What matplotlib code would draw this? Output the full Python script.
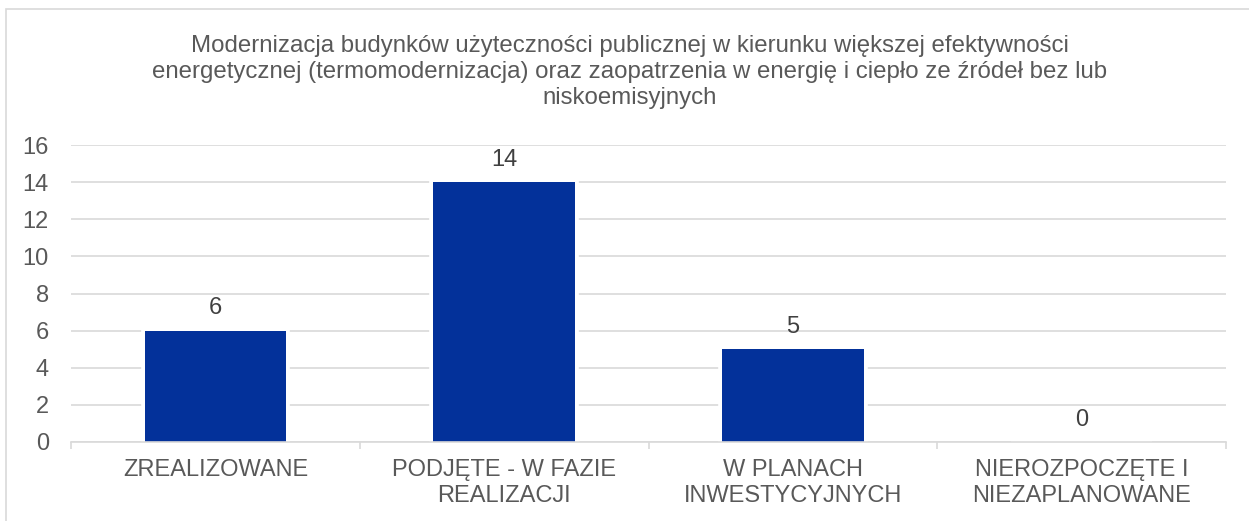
import numpy as np
import matplotlib.pyplot as plt
import matplotlib.patheffects as pe
from matplotlib.patches import Rectangle

plt.rcParams['font.family'] = ['Liberation Sans', 'DejaVu Sans']

# dane
kategorie = ['ZREALIZOWANE', 'PODJĘTE - W FAZIE\nREALIZACJI', 'W PLANACH\nINWESTYCYJNYCH', 'NIEROZPOCZĘTE I\nNIEZAPLANOWANE']
wartosci = [6, 14, 5, 0]
tytul = ('Modernizacja budynków użyteczności publicznej w kierunku większej efektywności\n'
         'energetycznej (termomodernizacja) oraz zaopatrzenia w energię i ciepło ze źródeł bez lub\n'
         'niskoemisyjnych')
y_ticks = [0, 2, 4, 6, 8, 10, 12, 14, 16]

kolor_slupka = '#03319A'
kolor_tekstu = '#595959'
kolor_siatki = '#D9D9D9'

fig = plt.figure(figsize=(12.49, 5.21), dpi=100)
W, H = 1249, 521

# ramka wykresu
fig.patches.append(Rectangle((6 / W, -0.1), 1.2, (H - 9) / H + 0.1, transform=fig.transFigure,
                             fill=False, edgecolor=kolor_siatki, linewidth=1.2))

ax = fig.add_axes([71 / W, (H - 442) / H, (1226 - 71) / W, (442 - 145) / H])
x = np.arange(len(kategorie))
bars = ax.bar(x, wartosci, width=0.49, color=kolor_slupka, zorder=2)
for b in bars:
    b.set_path_effects([pe.withStroke(linewidth=5.5, foreground='white'), pe.Normal()])

for xi, v in zip(x, wartosci):
    ax.annotate(str(v), (xi, v), xytext=(0, 16), textcoords='offset points',
                ha='center', va='center', fontsize=17, color='#404040')

ax.set_xlim(-0.5, len(kategorie) - 0.5)
ax.set_ylim(0, 16)
ax.set_yticks(y_ticks)
ax.yaxis.grid(True, color=kolor_siatki, linewidth=1.2, zorder=0)
ax.set_axisbelow(True)

ax.set_xticks(x)
ax.set_xticklabels(kategorie, fontsize=17, color=kolor_tekstu, linespacing=1.25)
ax.set_xticks(np.arange(-0.5, len(kategorie)), minor=True)
ax.tick_params(axis='x', which='major', length=0, pad=12)
ax.tick_params(axis='x', which='minor', length=5, width=1.2, color=kolor_siatki)
ax.tick_params(axis='y', length=0, pad=16, labelsize=17, labelcolor=kolor_tekstu)

for s in ['top', 'right', 'left']:
    ax.spines[s].set_visible(False)
ax.spines['bottom'].set_color(kolor_siatki)
ax.spines['bottom'].set_linewidth(1.2)
ax.spines['bottom'].set_zorder(3)

fig.text(630 / W, (H - 72) / H, tytul, ha='center', va='center', fontsize=17.3,
         color=kolor_tekstu, linespacing=1.25)

fig.savefig('out.png', dpi=100)
